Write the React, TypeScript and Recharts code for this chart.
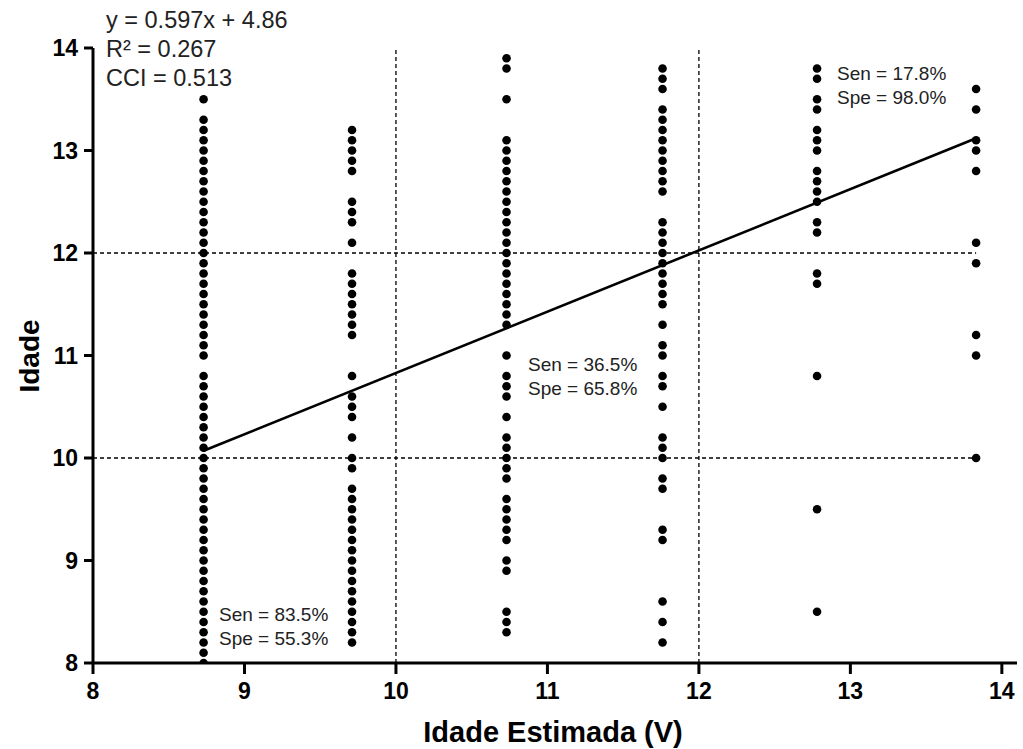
import React from 'react';
import { ScatterChart, Scatter, XAxis, YAxis, ReferenceLine } from 'recharts';

// Estimated age groups (x) and observed ages (y) per group
const groupX = [8.73, 9.71, 10.73, 11.76, 12.78, 13.83];

const ages1 = [13.5, 13.3, 13.2, 13.1, 13.0, 12.9, 12.8, 12.7, 12.6, 12.5, 12.4, 12.3, 12.2, 12.1, 12.0, 11.9, 11.8, 11.7, 11.6, 11.5, 11.4, 11.3, 11.2, 11.1, 11.0,
  10.8, 10.7, 10.6, 10.5, 10.4, 10.3, 10.2, 10.1, 10.0, 9.9, 9.8, 9.7, 9.6, 9.5, 9.4, 9.3, 9.2, 9.1, 9.0, 8.9, 8.8, 8.7, 8.6, 8.5, 8.4, 8.3, 8.2, 8.1, 8.0];
const ages2 = [13.2, 13.1, 13.0, 12.9, 12.8, 12.5, 12.4, 12.3, 12.1, 11.8, 11.7, 11.6, 11.5, 11.4, 11.3, 11.2, 10.8, 10.6, 10.5, 10.4, 10.2, 10.0, 9.9,
  9.7, 9.6, 9.5, 9.4, 9.3, 9.2, 9.1, 9.0, 8.9, 8.8, 8.7, 8.6, 8.5, 8.4, 8.3, 8.2];
const ages3 = [13.9, 13.8, 13.5, 13.1, 13.0, 12.9, 12.8, 12.7, 12.6, 12.5, 12.4, 12.3, 12.2, 12.1, 12.0, 11.9, 11.8, 11.7, 11.6, 11.5, 11.4, 11.3,
  11.0, 10.8, 10.7, 10.6, 10.4, 10.2, 10.1, 10.0, 9.9, 9.8, 9.6, 9.5, 9.4, 9.3, 9.2, 9.0, 8.9, 8.5, 8.4, 8.3];
const ages4 = [13.8, 13.7, 13.6, 13.4, 13.3, 13.2, 13.1, 13.0, 12.9, 12.8, 12.7, 12.6, 12.3, 12.2, 12.1, 12.0, 11.9, 11.8, 11.7, 11.6, 11.5,
  11.3, 11.1, 11.0, 10.8, 10.7, 10.5, 10.2, 10.1, 10.0, 9.8, 9.7, 9.3, 9.2, 8.6, 8.4, 8.2];
const ages5 = [13.8, 13.7, 13.5, 13.4, 13.2, 13.1, 13.0, 12.8, 12.7, 12.6, 12.5, 12.3, 12.2, 11.8, 11.7, 10.8, 9.5, 8.5];
const ages6 = [13.6, 13.4, 13.1, 13.0, 12.8, 12.1, 11.9, 11.2, 11.0, 10.0];

const groups = [ages1, ages2, ages3, ages4, ages5, ages6];

// Regression line endpoints (y = 0.597x + 4.86)
const fitLine = [
  { x: 8.73, y: 10.07 },
  { x: 13.83, y: 13.12 },
];

const xTicks = [8, 9, 10, 11, 12, 13, 14];
const yTicks = [8, 9, 10, 11, 12, 13, 14];
const cutoffs = [10, 12];

const statsText = ['y = 0.597x + 4.86', 'R² = 0.267', 'CCI = 0.513'];
const senSpe = [
  { sen: 'Sen = 83.5%', spe: 'Spe = 55.3%' },
  { sen: 'Sen = 36.5%', spe: 'Spe = 65.8%' },
  { sen: 'Sen = 17.8%', spe: 'Spe = 98.0%' },
];

const points = groups.flatMap((ages, i) => ages.map((a) => ({ x: groupX[i], y: a })));

const FONT = '"Liberation Sans", Arial, sans-serif';
const TXT = '#222';

const Dot = (props: any) => <circle cx={props.cx} cy={props.cy} r={4.3} fill="#000" />;

const senPos = [
  { x: 219, y: 621 },
  { x: 528, y: 371 },
  { x: 837, y: 80 },
];

export default function App() {
  return (
    <div style={{ position: 'absolute', left: 0, top: 0, width: 1023, height: 749, background: '#fff' }}>
      <ScatterChart width={1023} height={749} margin={{ top: 48, right: 6, bottom: 0, left: 0 }}>
        <XAxis
          type="number"
          dataKey="x"
          domain={[8, 14.1]}
          ticks={xTicks}
          allowDataOverflow
          height={86}
          axisLine={{ stroke: '#000', strokeWidth: 3 }}
          tickLine={{ stroke: '#000', strokeWidth: 3 }}
          tickSize={11}
          tickMargin={9}
          tick={{ fontSize: 23, fontWeight: 'bold', fill: '#000', fontFamily: FONT }}
        />
        <YAxis
          type="number"
          dataKey="y"
          domain={[8, 14]}
          ticks={yTicks}
          allowDataOverflow
          width={93}
          axisLine={{ stroke: '#000', strokeWidth: 3 }}
          tickLine={{ stroke: '#000', strokeWidth: 3 }}
          tickSize={9}
          tickMargin={6}
          tick={{ fontSize: 23, fontWeight: 'bold', fill: '#000', fontFamily: FONT }}
        />
        {cutoffs.map((c) => (
          <ReferenceLine key={'v' + c} x={c} stroke="#000" strokeWidth={1.3} strokeDasharray="4 3" />
        ))}
        {cutoffs.map((c) => (
          <ReferenceLine
            key={'h' + c}
            segment={[{ x: 8, y: c }, { x: groupX[5], y: c }]}
            stroke="#000"
            strokeWidth={1.3}
            strokeDasharray="4 3"
          />
        ))}
        <Scatter data={points} shape={Dot} isAnimationActive={false} />
        <ReferenceLine segment={fitLine} stroke="#000" strokeWidth={2.6} />
        <text x={106} y={28} fontSize={23.5} fontFamily={FONT} fill={TXT}>{statsText[0]}</text>
        <text x={106} y={57} fontSize={23.5} fontFamily={FONT} fill={TXT}>{statsText[1]}</text>
        <text x={106} y={86} fontSize={23.5} fontFamily={FONT} fill={TXT}>{statsText[2]}</text>
        {senSpe.map((s, i) => (
          <g key={i}>
            <text x={senPos[i].x} y={senPos[i].y} fontSize={19} fontFamily={FONT} fill={TXT}>{s.sen}</text>
            <text x={senPos[i].x} y={senPos[i].y + 24} fontSize={19} fontFamily={FONT} fill={TXT}>{s.spe}</text>
          </g>
        ))}
        <text x={553} y={742} fontSize={29} fontWeight="bold" fontFamily={FONT} fill="#000" textAnchor="middle">Idade Estimada (V)</text>
        <text x={39} y={356} fontSize={28} fontWeight="bold" fontFamily={FONT} fill="#000" textAnchor="middle" transform="rotate(-90 39 356)">Idade</text>
      </ScatterChart>
    </div>
  );
}
